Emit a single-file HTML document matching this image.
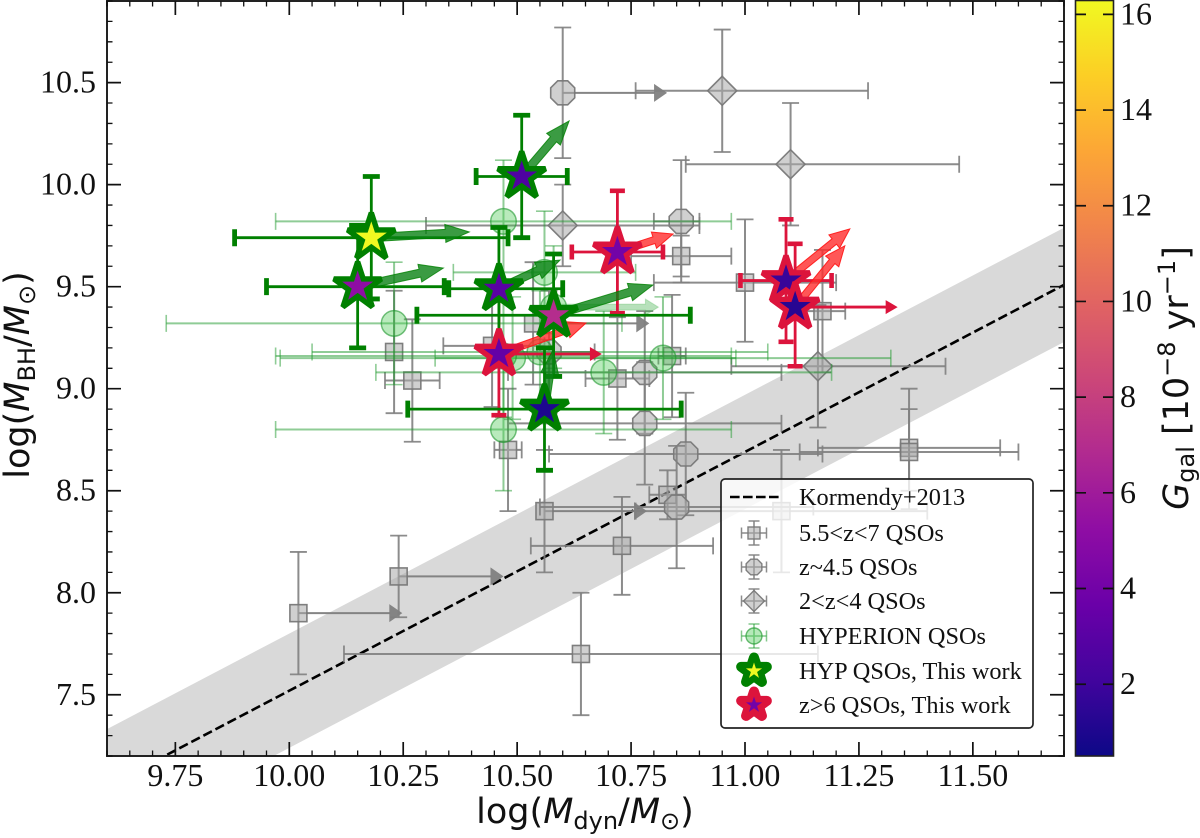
<!DOCTYPE html>
<html lang="en">
<head>
<meta charset="utf-8">
<title>Black hole mass versus dynamical mass</title>
<style>
html,body{margin:0;padding:0;background:#fff;}
svg{display:block;}
</style>
</head>
<body>
<svg id="chart" xmlns="http://www.w3.org/2000/svg" width="1200" height="838" viewBox="0 0 1200 838">
  <defs>
    <clipPath id="plot-clip"><rect x="107" y="1" width="957" height="755"/></clipPath>
    <linearGradient id="plasma" x1="0" y1="1" x2="0" y2="0">
      <stop offset="0" stop-color="#0d0887"/><stop offset="0.1" stop-color="#41049d"/>
      <stop offset="0.2" stop-color="#6a00a8"/><stop offset="0.3" stop-color="#8f0da4"/>
      <stop offset="0.4" stop-color="#b12a90"/><stop offset="0.5" stop-color="#cc4778"/>
      <stop offset="0.6" stop-color="#e16462"/><stop offset="0.7" stop-color="#f1844b"/>
      <stop offset="0.8" stop-color="#fca636"/><stop offset="0.9" stop-color="#fcce25"/>
      <stop offset="1" stop-color="#f0f921"/>
    </linearGradient>
  </defs>
  <g id="plot-layer" clip-path="url(#plot-clip)"></g>
  <g id="frame-layer"></g>
  <g id="legend-layer"></g>
  <g id="cbar-layer"></g>
  <text x="585" y="823" text-anchor="middle" font-family="'DejaVu Sans',sans-serif" font-size="35" fill="#111">log(<tspan font-style="italic">M</tspan><tspan font-size="24" dy="6">dyn</tspan><tspan dy="-6">/</tspan><tspan font-style="italic">M</tspan><tspan font-size="24" dy="6">⊙</tspan><tspan dy="-6">)</tspan></text>
  <text transform="translate(29,375) rotate(-90)" text-anchor="middle" font-family="'DejaVu Sans',sans-serif" font-size="35" fill="#111">log(<tspan font-style="italic">M</tspan><tspan font-size="24" dy="6">BH</tspan><tspan dy="-6">/</tspan><tspan font-style="italic">M</tspan><tspan font-size="24" dy="6">⊙</tspan><tspan dy="-6">)</tspan></text>
  <text transform="translate(1188,378) rotate(-90)" text-anchor="middle" font-family="'DejaVu Sans',sans-serif" font-size="35" fill="#111"><tspan font-style="italic">G</tspan><tspan font-size="24" dy="6">gal</tspan><tspan dy="-6" xml:space="preserve"> [10</tspan><tspan font-size="24" dy="-13">−8</tspan><tspan dy="13" xml:space="preserve"> yr</tspan><tspan font-size="24" dy="-13">−1</tspan><tspan dy="13">]</tspan></text>
</svg>
<script>
// Tick values
const xTickValues = ['9.75','10.00','10.25','10.50','10.75','11.00','11.25','11.50'];
const yTickValues = ['7.5','8.0','8.5','9.0','9.5','10.5','10.0'];
const cbarTickValues = ['2','4','6','8','10','12','14','16'];
const legendLabels = ['Kormendy+2013','5.5<z<7 QSOs','z~4.5 QSOs','2<z<4 QSOs','HYPERION QSOs','HYP QSOs, This work','z>6 QSOs, This work'];

// Kormendy+2013 relation
const relationX = [9.6, 11.7];
const relationY = [7.052, 9.509];
const relationScatter = [0.28];

// 5.5<z<7 QSOs
const squareX     = [10.02,10.24,10.64,10.73,10.56,10.27,10.23,10.445,10.48,10.535,10.72,10.84,10.86,11.0,11.17,11.36,11.36,11.08,10.83];
const squareY     = [7.9,8.08,7.7,8.23,8.4,9.04,9.18,9.21,8.7,9.32,9.05,9.16,9.65,9.52,9.38,8.71,8.69,8.4,8.48];
const squareXLow  = [null,null,10.12,10.53,null,10.21,null,10.338,10.45,null,10.65,10.81,10.75,10.8,11.12,11.16,11.12,10.76,10.79];
const squareXHigh = [null,null,11.16,10.93,null,10.33,null,10.56,10.51,null,10.79,10.87,10.97,11.2,11.22,11.56,11.6,11.4,10.87];
const squareYLow  = [7.6,7.88,7.4,7.99,8.1,8.74,8.88,8.91,8.4,9.02,8.75,8.86,9.55,9.23,9.08,8.41,8.5,8.1,8.36];
const squareYHigh = [8.2,8.28,8.0,8.47,8.7,9.34,9.48,9.51,9.0,9.62,9.35,9.46,9.75,9.83,9.68,9.0,8.9,8.7,8.6];
const squareLimit = [10.248,10.47,null,null,10.785,null,null,null,null,10.79,null,null,null,null,null,null,null,null,null];

// z~4.5 QSOs
const octagonX     = [10.6,10.86,10.78,10.78,10.87,10.85,10.57];
const octagonY     = [10.45,9.82,9.08,8.83,8.68,8.42,9.18];
const octagonXLow  = [null,10.8,10.48,10.48,10.57,10.55,10.47];
const octagonXHigh = [null,10.9,11.08,11.08,11.17,11.15,10.67];
const octagonYLow  = [10.13,9.52,8.78,8.53,8.38,8.12,8.88];
const octagonYHigh = [10.77,10.12,9.38,9.13,8.98,8.72,9.48];
const octagonLimit = [10.829,null,null,null,null,null,null];

// 2<z<4 QSOs
const diamondX     = [10.95,11.1,10.6,11.16];
const diamondY     = [10.46,10.1,9.8,9.11];
const diamondXLow  = [10.76,10.87,10.3,10.97];
const diamondXHigh = [11.27,11.47,10.9,11.44];
const diamondYLow  = [10.16,9.8,9.6,8.81];
const diamondYHigh = [10.76,10.4,10.0,9.41];

// HYPERION QSOs
const circleX     = [10.47,10.23,10.47,10.58,10.82,10.69,10.49,10.55,10.56,10.47];
const circleY     = [9.82,9.32,8.8,9.4,9.15,9.08,9.15,9.18,9.57,9.16];
const circleXLow  = [9.97,9.73,9.97,null,10.32,10.19,9.98,10.05,10.36,9.97];
const circleXHigh = [10.97,10.73,10.97,null,11.32,11.19,10.98,11.05,10.76,10.97];
const circleYLow  = [9.52,9.02,8.5,9.1,8.85,8.78,8.85,8.88,9.27,8.86];
const circleYHigh = [10.12,9.62,9.1,9.7,9.45,9.38,9.45,9.48,9.87,9.46];
const circleTipX  = [null,null,null,10.81,null,null,null,null,null,null];
const circleTipY  = [null,null,null,9.4,null,null,null,null,null,null];

// HYP QSOs, this work
const hypX     = [10.18,10.15,10.46,10.51,10.58,10.56];
const hypY     = [9.74,9.5,9.49,10.04,9.36,8.9];
const hypG     = [16.3,5.2,3.0,2.6,7.0,1.0];
const hypXLow  = [9.88,9.95,10.35,10.41,10.28,10.26];
const hypXHigh = [10.48,10.34,10.6,10.61,10.88,10.86];
const hypYLow  = [9.44,9.2,9.19,9.74,9.06,8.6];
const hypYHigh = [10.04,9.8,9.79,10.34,9.66,9.2];
const hypTipX  = [10.395,10.338,10.594,10.614,10.798,10.579];
const hypTipY  = [9.768,9.591,9.63,10.312,9.508,9.19];

// z>6 QSOs, this work
const redX     = [10.72,11.09,11.11,10.46];
const redY     = [9.67,9.53,9.40,9.17];
const redG     = [4.0,1.8,1.3,3.4];
const redXLow  = [10.62,10.99,null,null];
const redXHigh = [10.82,11.19,null,null];
const redYLow  = [9.37,9.23,9.11,8.87];
const redYHigh = [9.97,9.83,9.71,9.47];
const redTipX  = [10.842,11.23,11.219,10.651];
const redTipY  = [9.758,9.783,9.70,9.322];
const redLimitX = [null,null,11.335,10.686];

// Axis functions
const X0 = 107, X1 = 1064, Y0 = 756, Y1 = 1;
const xMin = 9.6, xMax = 11.7, yMin = 7.2, yMax = 10.9;
const gMin = 0.5, gMax = 16.3;
function xScale(v){ return X0 + (v - xMin) / (xMax - xMin) * (X1 - X0); }
function yScale(v){ return Y0 - (v - yMin) / (yMax - yMin) * (Y0 - Y1); }
function gScale(v){ return 756 - (v - gMin) / (gMax - gMin) * 756; }

const plasmaStops = [[13,8,135],[65,4,157],[106,0,168],[143,13,164],[177,42,144],[204,71,120],[225,100,98],[241,132,75],[252,166,54],[252,206,37],[240,249,33]];
function plasmaColor(g){
  let t = (g - gMin) / (gMax - gMin) * 10;
  t = Math.max(0, Math.min(10, t));
  const i = Math.min(9, Math.floor(t)), f = t - i;
  const a = plasmaStops[i], b = plasmaStops[i + 1];
  return 'rgb(' + [0,1,2].map(function(k){ return Math.round(a[k] + (b[k] - a[k]) * f); }).join(',') + ')';
}

const NS = 'http://www.w3.org/2000/svg';
function svgEl(tag, attrs, parent){
  const e = document.createElementNS(NS, tag);
  for (const k in attrs) e.setAttribute(k, attrs[k]);
  parent.appendChild(e);
  return e;
}
const plot = document.getElementById('plot-layer');
const frame = document.getElementById('frame-layer');
const legend = document.getElementById('legend-layer');
const cbar = document.getElementById('cbar-layer');

function regularPoints(cx, cy, r, n, startDeg){
  const pts = [];
  for (let i = 0; i < n; i++){
    const a = (startDeg + i * 360 / n) * Math.PI / 180;
    pts.push((cx + r * Math.cos(a)).toFixed(2) + ',' + (cy + r * Math.sin(a)).toFixed(2));
  }
  return pts.join(' ');
}
function starPoints(cx, cy, r){
  const pts = [];
  for (let i = 0; i < 10; i++){
    const rad = i % 2 ? r * 0.381966 : r;
    const a = (-90 + i * 36) * Math.PI / 180;
    pts.push((cx + rad * Math.cos(a)).toFixed(2) + ',' + (cy + rad * Math.sin(a)).toFixed(2));
  }
  return pts.join(' ');
}
function errorBar(parent, px, py, xa, xb, ya, yb, color, lw, capW, capLen, op){
  let bars = '', caps = '';
  if (xa !== null){ bars += 'M' + xa + ' ' + py + 'H' + xb; caps += 'M' + xa + ' ' + (py - capLen/2) + 'V' + (py + capLen/2) + 'M' + xb + ' ' + (py - capLen/2) + 'V' + (py + capLen/2); }
  if (ya !== null){ bars += 'M' + px + ' ' + ya + 'V' + yb; caps += 'M' + (px - capLen/2) + ' ' + ya + 'H' + (px + capLen/2) + 'M' + (px - capLen/2) + ' ' + yb + 'H' + (px + capLen/2); }
  const b = svgEl('path', {d: bars, fill: 'none', stroke: color, 'stroke-width': lw, opacity: op}, parent);
  
  
  const c = svgEl('path', {d: caps, fill: 'none', stroke: color, 'stroke-width': capW, opacity: op}, parent);
  
  
}
function maybeX(v){ return v === null ? null : xScale(v); }
function maybeY(v){ return v === null ? null : yScale(v); }

function limitArrow(parent, px, py, tip, color, lw, len, high, op){
  const l = svgEl('line', {x1: px, y1: py, x2: tip - len + 1, y2: py, stroke: color, 'stroke-width': lw, opacity: op}, parent);
  
  
  const h = svgEl('polygon', {points: tip + ',' + py + ' ' + (tip - len) + ',' + (py - high/2) + ' ' + (tip - len) + ',' + (py + high/2), fill: color, opacity: op}, parent);
  
  
}
function fancyArrow(parent, x0, y0, x1, y1, shaft, headW, headL, fill, stroke, sw){
  const d = Math.hypot(x1 - x0, y1 - y0), ux = (x1 - x0) / d, uy = (y1 - y0) / d, nx = -uy, ny = ux;
  const bx = x1 - ux * headL, by = y1 - uy * headL;
  const pts = [
    [x0 + nx * shaft/2, y0 + ny * shaft/2],
    [bx + nx * shaft/2, by + ny * shaft/2],
    [bx + nx * headW/2, by + ny * headW/2],
    [x1, y1],
    [bx - nx * headW/2, by - ny * headW/2],
    [bx - nx * shaft/2, by - ny * shaft/2],
    [x0 - nx * shaft/2, y0 - ny * shaft/2]
  ].map(function(p){ return p[0].toFixed(2) + ',' + p[1].toFixed(2); }).join(' ');
  const a = svgEl('polygon', {points: pts, fill: fill, stroke: stroke, 'stroke-width': sw}, parent);
  
  
}

// Scatter band
(function(){
  const s = relationScatter[0];
  const pts = [
    [relationX[0], relationY[0] + s], [relationX[1], relationY[1] + s],
    [relationX[1], relationY[1] - s], [relationX[0], relationY[0] - s]
  ].map(function(p){ return xScale(p[0]) + ',' + yScale(p[1]); }).join(' ');
  const band = svgEl('polygon', {points: pts, fill: '#d9d9d9'}, plot);
  
  
  const line = svgEl('line', {x1: xScale(relationX[0]), y1: yScale(relationY[0]), x2: xScale(relationX[1]), y2: yScale(relationY[1]), stroke: '#000', 'stroke-width': 2.6, 'stroke-dasharray': '9.6 4'}, plot);
  
  
})();

const GRAY = '#7f7f7f';
const GRAY_FILL = 'rgba(170,170,170,0.55)';
const GRAY_EDGE = 'rgba(120,120,120,0.95)';

// Squares
squareX.forEach(function(v, i){
  const px = xScale(v), py = yScale(squareY[i]);
  errorBar(plot, px, py, maybeX(squareXLow[i]), maybeX(squareXHigh[i]), yScale(squareYLow[i]), yScale(squareYHigh[i]), GRAY, 2, 1.8, 17, 0.9);
  if (squareLimit[i] !== null) limitArrow(plot, px, py, xScale(squareLimit[i]), GRAY, 2, 13, 18, 0.95);
  const m = svgEl('rect', {x: px - 8.5, y: py - 8.5, width: 17, height: 17, fill: GRAY_FILL, stroke: GRAY_EDGE, 'stroke-width': 1.6}, plot);
  
  
});
// Octagons
octagonX.forEach(function(v, i){
  const px = xScale(v), py = yScale(octagonY[i]);
  errorBar(plot, px, py, maybeX(octagonXLow[i]), maybeX(octagonXHigh[i]), yScale(octagonYLow[i]), yScale(octagonYHigh[i]), GRAY, 2, 1.8, 17, 0.9);
  if (octagonLimit[i] !== null) limitArrow(plot, px, py, xScale(octagonLimit[i]), GRAY, 2, 13, 18, 0.95);
  const m = svgEl('polygon', {points: regularPoints(px, py, 13, 8, 22.5), fill: GRAY_FILL, stroke: GRAY_EDGE, 'stroke-width': 1.6}, plot);
  
  
});
// Diamonds
diamondX.forEach(function(v, i){
  const px = xScale(v), py = yScale(diamondY[i]);
  errorBar(plot, px, py, xScale(diamondXLow[i]), xScale(diamondXHigh[i]), yScale(diamondYLow[i]), yScale(diamondYHigh[i]), GRAY, 2, 1.8, 17, 0.9);
  const m = svgEl('polygon', {points: regularPoints(px, py, 14.5, 4, 0), fill: GRAY_FILL, stroke: GRAY_EDGE, 'stroke-width': 1.6}, plot);
  
  
});
// HYPERION circles
circleX.forEach(function(v, i){
  const px = xScale(v), py = yScale(circleY[i]);
  errorBar(plot, px, py, maybeX(circleXLow[i]), maybeX(circleXHigh[i]), yScale(circleYLow[i]), yScale(circleYHigh[i]), '#1f9a2e', 2, 1.6, 17, 0.5);
  if (circleTipX[i] !== null) fancyArrow(plot, px, py, xScale(circleTipX[i]), yScale(circleTipY[i]), 6, 16, 13, 'rgba(50,170,60,0.35)', 'rgba(50,170,60,0.25)', 1);
  const m = svgEl('circle', {cx: px, cy: py, r: 12.8, fill: 'rgba(70,200,80,0.38)', stroke: 'rgba(30,150,45,0.6)', 'stroke-width': 1.5}, plot);
  
  
});

// Red series: error bars and arrows under the green stars
redX.forEach(function(v, i){
  const px = xScale(v), py = yScale(redY[i]);
  fancyArrow(plot, px, py, xScale(redTipX[i]), yScale(redTipY[i]), 7, 17, 20, 'rgba(255,45,45,0.8)', 'rgba(255,20,20,0.9)', 1);
  errorBar(plot, px, py, maybeX(redXLow[i]), maybeX(redXHigh[i]), yScale(redYLow[i]), yScale(redYHigh[i]), '#dc143c', 2.8, 4.6, 15, 1);
  if (redLimitX[i] !== null) limitArrow(plot, px, py, xScale(redLimitX[i]), '#dc143c', 2.8, 12, 14, 1);
});
// Green series
hypX.forEach(function(v, i){
  const px = xScale(v), py = yScale(hypY[i]);
  errorBar(plot, px, py, xScale(hypXLow[i]), xScale(hypXHigh[i]), yScale(hypYLow[i]), yScale(hypYHigh[i]), '#008000', 2.8, 4.8, 17, 1);
  fancyArrow(plot, px, py, xScale(hypTipX[i]), yScale(hypTipY[i]), 8, 18, 24, 'rgba(10,130,20,0.8)', 'rgba(0,128,0,0.8)', 1);
});
hypX.forEach(function(v, i){
  const s = svgEl('polygon', {points: starPoints(xScale(v), yScale(hypY[i]), 25), fill: plasmaColor(hypG[i]), stroke: '#008000', 'stroke-width': 5.4, 'stroke-linejoin': 'miter', 'stroke-miterlimit': 2}, plot);
  
  
});
redX.forEach(function(v, i){
  const s = svgEl('polygon', {points: starPoints(xScale(v), yScale(redY[i]), 25), fill: plasmaColor(redG[i]), stroke: '#dc143c', 'stroke-width': 5.4, 'stroke-linejoin': 'miter', 'stroke-miterlimit': 2}, plot);
  
  
});

// Frame and ticks
const fr = svgEl('rect', {x: X0, y: Y1, width: X1 - X0, height: Y0 - Y1, fill: 'none', stroke: '#222', 'stroke-width': 2}, frame);



function tickPath(){
  let major = '', minor = '';
  for (let k = 0; k <= 42; k++){
    const v = 9.6 + k * 0.05, x = xScale(v);
    const isMajor = (k - 3) % 5 === 0;
    const len = isMajor ? 14 : 5.5;
    const seg = 'M' + x + ' ' + Y0 + 'v' + (-len) + 'M' + x + ' ' + Y1 + 'v' + len;
    if (isMajor) major += seg; else minor += seg;
  }
  for (let k = 0; k <= 37; k++){
    const v = 7.2 + k * 0.1, y = yScale(v);
    const isMajor = (k - 3) % 5 === 0;
    const len = isMajor ? 14 : 5.5;
    const seg = 'M' + X0 + ' ' + y + 'h' + len + 'M' + X1 + ' ' + y + 'h' + (-len);
    if (isMajor) major += seg; else minor += seg;
  }
  return [major, minor];
}
const tp = tickPath();
const majT = svgEl('path', {d: tp[0], stroke: '#111', 'stroke-width': 1.7, fill: 'none'}, frame);


const minT = svgEl('path', {d: tp[1], stroke: '#111', 'stroke-width': 1.3, fill: 'none'}, frame);



xTickValues.forEach(function(t){
  const e = svgEl('text', {x: xScale(parseFloat(t)), y: 786, 'text-anchor': 'middle', 'font-family': "'Liberation Serif',serif", 'font-size': 32, fill: '#111'}, frame);
  
  
  e.textContent = t;
});
yTickValues.forEach(function(t){
  const e = svgEl('text', {x: 96, y: yScale(parseFloat(t)) + 10, 'text-anchor': 'end', 'font-family': "'Liberation Serif',serif", 'font-size': 32, fill: '#111'}, frame);
  
  
  e.textContent = t;
});

// Legend
const LX = 754, LT = 799;
const lb = svgEl('rect', {x: 721, y: 479, width: 312, height: 249, rx: 4, ry: 4, fill: 'rgba(255,255,255,0.8)', stroke: '#222', 'stroke-width': 1.7}, legend);


const rowY = [497, 533, 567, 601, 636, 671, 705];
legendLabels.forEach(function(t, i){
  const e = svgEl('text', {x: LT, y: rowY[i] + 8, 'font-family': "'Liberation Serif',serif", 'font-size': 24.3, fill: '#111'}, legend);
  
  
  e.textContent = t;
});
const lk = svgEl('line', {x1: 730, y1: rowY[0], x2: 779, y2: rowY[0], stroke: '#000', 'stroke-width': 2.6, 'stroke-dasharray': '9.6 3.4'}, legend);


[1,2,3,4].forEach(function(i){
  const col = i === 4 ? '#1f9a2e' : GRAY;
  const op = i === 4 ? 0.55 : 0.9;
  errorBar(legend, LX, rowY[i], LX - 12.5, LX + 12.5, rowY[i] - 12, rowY[i] + 12, col, 1.6, 1.5, 11, op);
});
const lm1 = svgEl('rect', {x: LX - 6, y: rowY[1] - 6, width: 12, height: 12, fill: GRAY_FILL, stroke: GRAY_EDGE, 'stroke-width': 1.4}, legend);


const lm2 = svgEl('polygon', {points: regularPoints(LX, rowY[2], 8.5, 8, 22.5), fill: GRAY_FILL, stroke: GRAY_EDGE, 'stroke-width': 1.4}, legend);


const lm3 = svgEl('polygon', {points: regularPoints(LX, rowY[3], 10.5, 4, 0), fill: GRAY_FILL, stroke: GRAY_EDGE, 'stroke-width': 1.4}, legend);


const lm4 = svgEl('circle', {cx: LX, cy: rowY[4], r: 8, fill: 'rgba(70,200,80,0.4)', stroke: 'rgba(30,150,45,0.65)', 'stroke-width': 1.4}, legend);


const ls1 = svgEl('polygon', {points: starPoints(LX, rowY[5], 13.5), fill: '#008000', stroke: '#008000', 'stroke-width': 10, 'stroke-linejoin': 'round'}, legend);


const ls2 = svgEl('polygon', {points: starPoints(LX, rowY[5], 8.5), fill: plasmaColor(16.3)}, legend);


const ls3 = svgEl('polygon', {points: starPoints(LX, rowY[6], 13.5), fill: '#dc143c', stroke: '#dc143c', 'stroke-width': 10, 'stroke-linejoin': 'round'}, legend);


const ls4 = svgEl('polygon', {points: starPoints(LX, rowY[6], 8.5), fill: plasmaColor(4.0)}, legend);



// Colorbar
const cb = svgEl('rect', {x: 1075.5, y: 0.5, width: 38, height: 755.5, fill: 'url(#plasma)', stroke: '#222', 'stroke-width': 1.6}, cbar);


cbarTickValues.forEach(function(t){
  const y = gScale(parseFloat(t));
  const m = svgEl('path', {d: 'M1075 ' + y + 'h11M1113.5 ' + y + 'h-10.5', stroke: '#111', 'stroke-width': 1.7, fill: 'none'}, cbar);
  
  
  const e = svgEl('text', {x: 1120, y: y + 10, 'font-family': "'Liberation Serif',serif", 'font-size': 32, fill: '#111'}, cbar);
  
  
  e.textContent = t;
});
</script>
</body>
</html>
